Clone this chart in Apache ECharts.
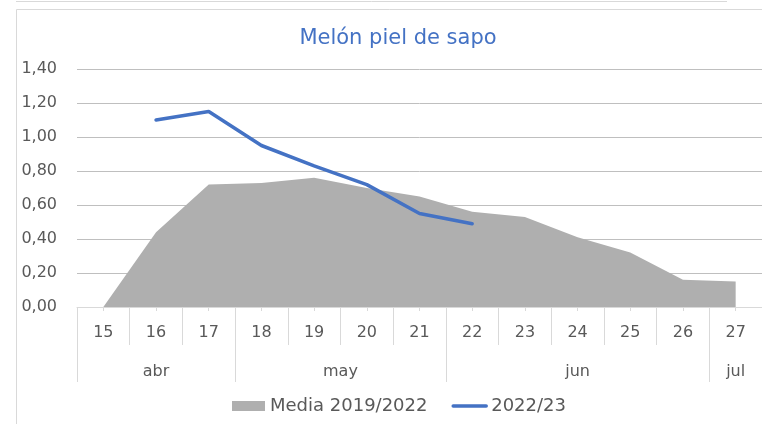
<!DOCTYPE html>
<html>
<head>
<meta charset="utf-8">
<script src="https://cdn.jsdelivr.net/npm/echarts@6/dist/echarts.min.js"></script>
<style>
html,body{margin:0;padding:0;background:#fff;}
#chart{width:762px;height:424px;}
</style>
</head>
<body>
<div id="chart"></div>
<script>
var days = ['15','16','17','18','19','20','21','22','23','24','25','26','27'];
var media = [0, 0.44, 0.72, 0.73, 0.76, 0.70, 0.65, 0.56, 0.53, 0.41, 0.32, 0.16, 0.15];
var season = [null, 1.10, 1.15, 0.95, 0.83, 0.72, 0.55, 0.49, null, null, null, null, null];
var months = ['abr','may','jun','jul'];
var monthSpans = [3, 4, 5, 1];
var yTicks = [0, 0.2, 0.4, 0.6, 0.8, 1.0, 1.2, 1.4];

// half-slot month axis: 2 slots per day, points at boundaries
var monthAxis = [];
var monthBounds = [0];
var monthLabelIdx = {};
(function(){
  var pos = 0;
  for (var i = 0; i < months.length; i++) {
    var center = pos * 2 + monthSpans[i];
    monthLabelIdx[center] = months[i];
    pos += monthSpans[i];
    monthBounds.push(pos * 2);
  }
  for (var k = 0; k <= days.length * 2; k++) {
    monthAxis.push(monthLabelIdx[k] || '');
  }
})();

var FONT = 'DejaVu Sans';
var TXT = '#595959';
var AX = '#d9d9d9';

var chart = echarts.init(document.getElementById('chart'));
chart.setOption({
  animation: false,
  backgroundColor: '#fff',
  textStyle: {fontFamily: FONT},
  title: {
    text: 'Melón piel de sapo',
    left: 393, top: 23, textAlign: 'center',
    textStyle: {color: '#4472C4', fontSize: 21, fontWeight: 'normal', fontFamily: FONT}
  },
  legend: {
    left: 227, top: 392,
    itemGap: 24, itemWidth: 33, itemHeight: 10,
    textStyle: {color: TXT, fontSize: 18, fontFamily: FONT},
    data: [
      {name: 'Media 2019/2022', icon: 'rect'},
      {name: '2022/23',
        itemStyle: {color: 'rgba(0,0,0,0)', borderWidth: 0, borderColor: 'rgba(0,0,0,0)'},
        lineStyle: {width: 3.5, color: '#4472C4'}}
    ]
  },
  graphic: [
    {type: 'line', shape: {x1: 16, y1: 1.5, x2: 727, y2: 1.5}, style: {stroke: AX, lineWidth: 1}, silent: true},
    {type: 'rect', shape: {x: 16.5, y: 9.5, width: 900, height: 600}, style: {stroke: AX, fill: null, lineWidth: 1}, silent: true}
  ],
  grid: {left: 77, top: 69, width: 690, height: 238, containLabel: false},
  xAxis: [
    {
      type: 'category', data: days, boundaryGap: true, position: 'bottom',
      axisLine: {show: true, lineStyle: {color: AX, width: 1}},
      axisTick: {show: true, interval: 0, length: 38, lineStyle: {color: AX}},
      axisLabel: {color: TXT, fontSize: 16, margin: 18, fontFamily: FONT, interval: 0},
      splitLine: {show: false}
    },
    {
      type: 'category', data: monthAxis, boundaryGap: false, position: 'bottom', offset: 38,
      axisLine: {show: false},
      axisTick: {show: true, length: 37, lineStyle: {color: AX},
        interval: function (i) { return monthBounds.indexOf(i) >= 0; }},
      axisLabel: {color: TXT, fontSize: 16, margin: 19, fontFamily: FONT,
        interval: function (i, v) { return v !== ''; }},
      splitLine: {show: false}
    },
    {
      type: 'category', data: days, boundaryGap: true, position: 'bottom',
      axisLine: {show: false},
      axisTick: {show: true, interval: 0, alignWithLabel: true, length: 4, lineStyle: {color: AX}},
      axisLabel: {show: false},
      splitLine: {show: false}
    }
  ],
  yAxis: {
    type: 'value', min: yTicks[0], max: yTicks[yTicks.length - 1], interval: 0.2,
    axisLine: {show: false}, axisTick: {show: false},
    axisLabel: {color: TXT, fontSize: 16, margin: 20, fontFamily: FONT,
      formatter: function (v) { return v.toFixed(2).replace('.', ','); }},
    splitLine: {show: true, lineStyle: {color: '#bfbfbf', width: 1}}
  },
  series: [
    {
      name: 'Media 2019/2022', type: 'line', data: media, xAxisIndex: 0,
      symbol: 'none', showSymbol: false,
      lineStyle: {width: 0, color: '#afafaf'},
      itemStyle: {color: '#afafaf'},
      areaStyle: {color: '#afafaf', opacity: 1},
      z: 1
    },
    {
      name: '2022/23', type: 'line', data: season, xAxisIndex: 0,
      symbol: 'none', showSymbol: false, connectNulls: false,
      lineStyle: {width: 3.5, color: '#4472C4', cap: 'round'},
      itemStyle: {color: '#4472C4'},
      z: 3
    }
  ]
});
</script>
</body>
</html>
